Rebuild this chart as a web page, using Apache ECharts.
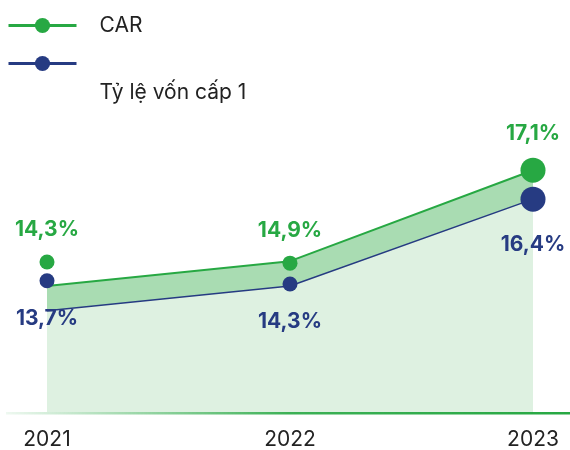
<!DOCTYPE html>
<html>
<head>
<meta charset="utf-8">
<script src="https://cdn.jsdelivr.net/npm/echarts@6/dist/echarts.min.js"></script>
<style>
  html, body { margin: 0; padding: 0; background: #fff; }
  #chart { width: 570px; height: 450px; }
</style>
</head>
<body>
<div id="chart"></div>
<script>
const years = ['2021', '2022', '2023'];
const carValues = [14.3, 14.9, 17.1];
const tier1Values = [13.7, 14.3, 16.4];
const seriesNames = ['CAR', 'Tỷ lệ vốn cấp 1'];

const green = '#27a843';
const blue = '#263b82';

// dot sizes / offsets per year (the dots sit a bit off the line in the original)
const carDots = [{ size: 15, offset: [0, -24] }, { size: 15, offset: [0, 2] }, { size: 25, offset: [0, 0] }];
const tierDots = [{ size: 15, offset: [0, -30] }, { size: 15, offset: [0, -2] }, { size: 25, offset: [0, 0] }];
const tierLabelGap = [20, 20, 23];

const fmt = v => v.toFixed(1).replace('.', ',') + '%';

const chart = echarts.init(document.getElementById('chart'));

let option = {
  animation: false,
  textStyle: { fontFamily: 'Inter' },
  grid: { left: 47, right: 37, top: 133, bottom: 37 },
  legend: [
    {
      data: [seriesNames[0]],
      left: 7, top: 15, padding: 0,
      itemWidth: 68, itemHeight: 19,
      lineStyle: { width: 3 },
      textStyle: { fontSize: 21, color: '#222', fontFamily: 'Inter', padding: [0, 0, 0, 18] }
    },
    {
      data: [seriesNames[1]],
      left: 7, top: 20, padding: 0,
      itemWidth: 68, itemHeight: 19,
      lineStyle: { width: 3 },
      formatter: name => '\n\n' + name,
      textStyle: { fontSize: 21, lineHeight: 29, color: '#222', fontFamily: 'Inter', padding: [0, 0, 0, 18] }
    }
  ],
  xAxis: {
    type: 'category',
    data: years,
    boundaryGap: false,
    axisLine: { show: false },
    axisTick: { show: false },
    axisLabel: { fontSize: 21, color: '#222', margin: 17, fontFamily: 'Inter' }
  },
  yAxis: {
    type: 'value',
    min: 11.25,
    max: 18,
    show: false
  },
  series: [
    {
      name: seriesNames[0],
      type: 'line',
      color: green,
      data: carValues.map((v, i) => ({ value: v, symbolSize: carDots[i].size, symbolOffset: carDots[i].offset })),
      symbol: 'circle',
      showSymbol: true,
      lineStyle: { width: 2, color: green },
      itemStyle: { color: green },
      areaStyle: { color: '#a9dcb2', opacity: 1 },
      label: {
        show: true, position: 'top', distance: 14,
        color: green, fontSize: 21, fontWeight: 'bold', fontFamily: 'Inter',
        formatter: p => fmt(p.value)
      }
    },
    {
      name: seriesNames[1],
      type: 'line',
      color: blue,
      data: tier1Values.map((v, i) => ({
        value: v, symbolSize: tierDots[i].size, symbolOffset: tierDots[i].offset,
        label: { distance: tierLabelGap[i] }
      })),
      symbol: 'circle',
      showSymbol: true,
      lineStyle: { width: 1.5, color: blue },
      itemStyle: { color: blue },
      areaStyle: { color: '#def1e1', opacity: 1 },
      label: {
        show: true, position: 'bottom', distance: 20,
        color: blue, fontSize: 21, fontWeight: 'bold', fontFamily: 'Inter',
        formatter: p => fmt(p.value)
      }
    }
  ],
  graphic: [
    {
      type: 'rect',
      left: 6, top: 412,
      shape: { width: 564, height: 2.5 },
      z: 10,
      style: {
        fill: new echarts.graphic.LinearGradient(0, 0, 1, 0, [
          { offset: 0, color: 'rgba(39,168,67,0.08)' },
          { offset: 0.5, color: 'rgba(39,168,67,0.9)' },
          { offset: 1, color: green }
        ])
      }
    }
  ]
};

chart.setOption(option);
</script>
</body>
</html>
